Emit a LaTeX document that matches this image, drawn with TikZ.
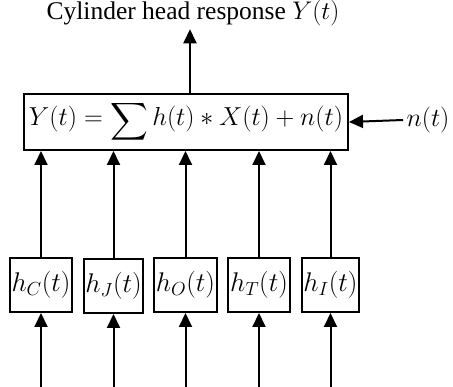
\RequirePackage{fix-cm}
\documentclass[tikz,border=0pt]{standalone}
\usepackage{fontspec}
\usepackage{graphicx}
\setmainfont{Liberation Serif}
\usetikzlibrary{arrows.meta}
\newcommand{\bigsigma}{\mathop{\lower3pt\hbox{$\vcenter{\hbox{\resizebox{!}{38pt}{$\displaystyle\sum$}}}$}}}
\tikzset{
  conn/.style={line width=2pt, -{Triangle[width=13pt,length=14pt]}},
  bigbox/.style={draw, line width=2pt, minimum width=324pt, minimum height=56pt, inner sep=0pt},
  hbox/.style={draw, line width=2pt, minimum height=54pt, inner sep=0pt, anchor=center},
  hlab/.style={font=\fontsize{27}{30}\selectfont},
}
\begin{document}
\begin{tikzpicture}[x=1pt,y=-1pt]
\useasboundingbox (0,0) rectangle (453,387);
\node[font=\fontsize{25.5}{28}\selectfont] (title) at (193,13) {Cylinder head response $Y(t)$};
\node[bigbox, font=\fontsize{26}{28}\selectfont] (eq) at (186,122) {$Y(t) = \bigsigma h(t) * X(t) + n(t)$};
\node[font=\fontsize{26}{28}\selectfont] (n) at (428,120) {$n(t)$};
\node[hbox, hlab, minimum width=62pt] (h1) at (41,285) {\raisebox{-5pt}{$h_C(t)$}};
\node[hbox, hlab, minimum width=59pt] (h2) at (113.5,286) {\raisebox{-4pt}{$h_J(t)$}};
\node[hbox, hlab, minimum width=63pt] (h3) at (185.5,285) {\raisebox{-5pt}{$h_O(t)$}};
\node[hbox, hlab, minimum width=62pt] (h4) at (259,285) {\raisebox{-5pt}{$h_T(t)$}};
\node[hbox, hlab, minimum width=57pt] (h5) at (330.5,285) {\raisebox{-5pt}{$h_I(t)$}};
\coordinate (b1) at (41,387);
\coordinate (b2) at (113.5,387);
\coordinate (b3) at (185.5,387);
\coordinate (b4) at (259,387);
\coordinate (b5) at (330.5,387);
\draw[conn] (eq.north -| 190,0) -- (title.south -| 190,0);
\draw[conn] (n.west) -- (eq.east);
\foreach \i in {1,...,5} {
  \draw[conn] (h\i.north) -- (h\i.north |- eq.south);
  \draw[conn] (b\i) -- (h\i.south);
}
\end{tikzpicture}
\end{document}
